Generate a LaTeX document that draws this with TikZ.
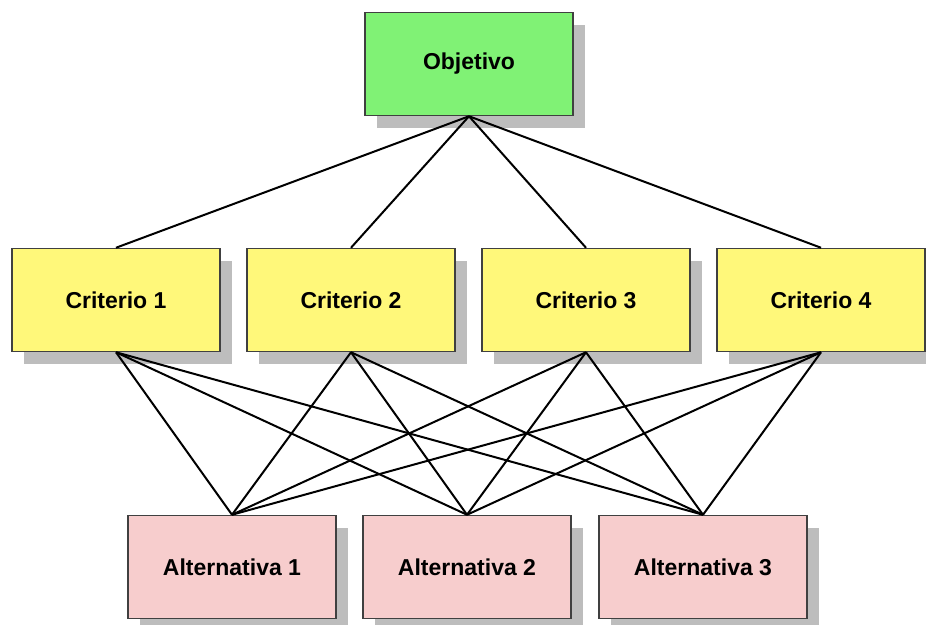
\documentclass[tikz,border=0pt]{standalone}
\usepackage{fontspec}
\setmainfont{Liberation Sans}
\usetikzlibrary{shadows}
\definecolor{objgreen}{HTML}{80F275}
\definecolor{crityellow}{HTML}{FFF87A}
\definecolor{altpink}{HTML}{F7CDCD}
\definecolor{edgegray}{HTML}{404040}
\definecolor{shadowgray}{HTML}{BDBDBD}
\tikzset{
  box/.style={draw=edgegray, line width=1.5pt, minimum width=208pt, minimum height=103pt,
    inner sep=0pt, font=\fontsize{23}{27}\selectfont\bfseries,
    drop shadow={shadow xshift=12pt, shadow yshift=-12pt, fill=shadowgray, opacity=1}},
  objbox/.style={box, fill=objgreen},
  critbox/.style={box, fill=crityellow},
  altbox/.style={box, fill=altpink},
  link/.style={draw=black, line width=2pt}
}
\begin{document}
\begin{tikzpicture}[x=1pt,y=-1pt]
\useasboundingbox (0,0) rectangle (926,624);
\node[objbox] (obj) at (469,64) {Objetivo};
\node[critbox] (c1) at (116,300) {Criterio 1};
\node[critbox] (c2) at (351,300) {Criterio 2};
\node[critbox] (c3) at (586,300) {Criterio 3};
\node[critbox] (c4) at (821,300) {Criterio 4};
\node[altbox] (a1) at (232,567) {Alternativa 1};
\node[altbox] (a2) at (467,567) {Alternativa 2};
\node[altbox] (a3) at (703,567) {Alternativa 3};
\foreach \c in {c1,c2,c3,c4}{
  \draw[link] (obj.south) -- (\c.north);
  \foreach \a in {a1,a2,a3}{
    \draw[link] (\c.south) -- (\a.north);
  }
}
\end{tikzpicture}
\end{document}
